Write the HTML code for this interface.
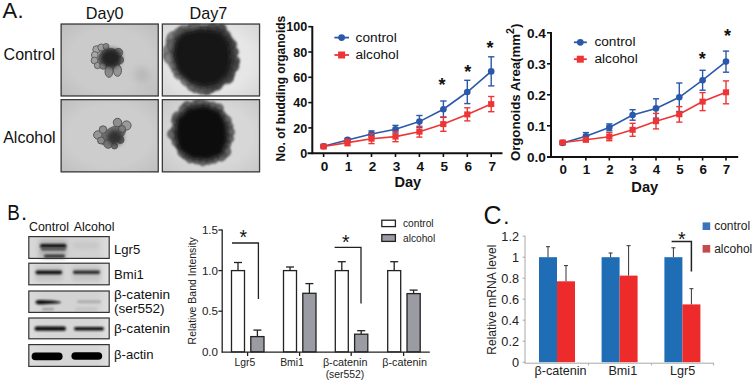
<!DOCTYPE html><html><head><meta charset="utf-8"><style>html,body{margin:0;padding:0;background:#fff;width:755px;height:383px;overflow:hidden}svg{display:block}text{font-family:"Liberation Sans",sans-serif}</style></head><body>
<svg width="755" height="383" viewBox="0 0 755 383">
<defs>
<filter id="b1" x="-50%" y="-50%" width="200%" height="200%"><feGaussianBlur stdDeviation="1"/></filter>
<filter id="b2" x="-50%" y="-50%" width="200%" height="200%"><feGaussianBlur stdDeviation="2"/></filter>
<filter id="b3" x="-50%" y="-50%" width="200%" height="200%"><feGaussianBlur stdDeviation="3.5"/></filter>
<filter id="b05" x="-50%" y="-50%" width="200%" height="200%"><feGaussianBlur stdDeviation="0.6"/></filter>
<filter id="b09" x="-50%" y="-100%" width="200%" height="300%"><feGaussianBlur stdDeviation="0.9"/></filter>
<clipPath id="cp1"><rect x="60.5" y="23.4" width="98.4" height="73.2"/></clipPath>
<clipPath id="cp2"><rect x="161.7" y="23.4" width="98.5" height="73.2"/></clipPath>
<clipPath id="cp3"><rect x="60.5" y="99" width="98.4" height="73.5"/></clipPath>
<clipPath id="cp4"><rect x="161.7" y="99" width="98.5" height="73.5"/></clipPath>
<linearGradient id="blg" x1="0" y1="0" x2="1" y2="0"><stop offset="0" stop-color="#fff" stop-opacity="0.15"/><stop offset="0.2" stop-color="#fff" stop-opacity="0"/><stop offset="0.85" stop-color="#fff" stop-opacity="0"/><stop offset="1" stop-color="#fff" stop-opacity="0.25"/></linearGradient>
<radialGradient id="vig" cx="0.5" cy="0.5" r="0.75"><stop offset="0.55" stop-color="#000" stop-opacity="0"/><stop offset="1" stop-color="#000" stop-opacity="0.12"/></radialGradient>
</defs>
<rect width="755" height="383" fill="#fff"/>
<text x="2.4" y="18" font-size="22" fill="#111">A</text><text x="17.6" y="18" font-size="22" fill="#111">.</text>
<text x="104.6" y="19.4" font-size="16.2" text-anchor="middle" fill="#111">Day0</text>
<text x="208.4" y="19.4" font-size="16.2" text-anchor="middle" fill="#111">Day7</text>
<text x="3.6" y="60.4" font-size="16" fill="#111">Control</text>
<text x="3.2" y="143.4" font-size="16" fill="#111">Alcohol</text>
<g clip-path="url(#cp1)">
<rect x="60.5" y="23.4" width="98.4" height="73.19999999999999" fill="#cbcbcb"/>
<rect x="60.5" y="23.4" width="98.4" height="73.19999999999999" fill="url(#vig)" opacity="0.70"/>
<g filter="url(#b05)"><ellipse cx="110" cy="59" rx="12" ry="11" fill="#6a6a6a"/><circle cx="96.6" cy="49.5" r="3.8" fill="#a4a4a4" stroke="#5a5a5a" stroke-width="0.9"/><circle cx="94.8" cy="55" r="3.4" fill="#a8a8a8" stroke="#5a5a5a" stroke-width="0.9"/><circle cx="94.5" cy="60.5" r="3.4" fill="#a0a0a0" stroke="#5a5a5a" stroke-width="0.9"/><circle cx="97.5" cy="65.5" r="3.2" fill="#9a9a9a" stroke="#5a5a5a" stroke-width="0.9"/><circle cx="101.5" cy="47.5" r="3.6" fill="#a0a0a0" stroke="#5a5a5a" stroke-width="0.9"/><circle cx="106" cy="46.5" r="3" fill="#8a8a8a" stroke="#5a5a5a" stroke-width="0.9"/><circle cx="118.5" cy="52.5" r="4.2" fill="#7a7a7a" stroke="#5a5a5a" stroke-width="0.9"/><circle cx="120" cy="60" r="3.6" fill="#7a7a7a" stroke="#5a5a5a" stroke-width="0.9"/><circle cx="103" cy="66" r="3.2" fill="#8a8a8a" stroke="#5a5a5a" stroke-width="0.9"/><ellipse cx="109" cy="71.5" rx="4" ry="5.8" fill="#8a8a8a" stroke="#505050" stroke-width="0.9"/><ellipse cx="117.5" cy="70.5" rx="4" ry="5.8" fill="#959595" stroke="#505050" stroke-width="0.9"/></g><ellipse cx="111" cy="58" rx="10.5" ry="9.5" fill="#222" filter="url(#b2)"/><ellipse cx="142" cy="75" rx="8" ry="8" fill="#a8a8a8" opacity="0.5" filter="url(#b3)"/>
</g>
<rect x="61.15" y="24.05" width="97.10" height="71.90" fill="none" stroke="#3c3c3c" stroke-width="1.3"/>
<g clip-path="url(#cp2)">
<rect x="161.7" y="23.4" width="98.5" height="73.19999999999999" fill="#e6e6e6"/>
<rect x="161.7" y="23.4" width="98.5" height="73.19999999999999" fill="url(#vig)" opacity="0.70"/>
<g filter="url(#b1)"><circle cx="183.4" cy="31.7" r="6.1" fill="rgb(130,130,130)" fill-opacity="0.95" stroke="#333" stroke-width="1.0"/><circle cx="191.1" cy="30.5" r="6.3" fill="rgb(117,117,117)" fill-opacity="0.95" stroke="#333" stroke-width="1.0"/><circle cx="195.2" cy="28.5" r="6.4" fill="rgb(109,109,109)" fill-opacity="0.95" stroke="#333" stroke-width="1.0"/><circle cx="204.6" cy="29.6" r="4.7" fill="rgb(90,90,90)" fill-opacity="0.95" stroke="#333" stroke-width="1.0"/><circle cx="212.5" cy="28.4" r="5.6" fill="rgb(74,74,74)" fill-opacity="0.95" stroke="#333" stroke-width="1.0"/><circle cx="221.2" cy="28.5" r="4.9" fill="rgb(70,70,70)" fill-opacity="0.95" stroke="#333" stroke-width="1.0"/><circle cx="224.3" cy="36.0" r="6.0" fill="rgb(70,70,70)" fill-opacity="0.95" stroke="#333" stroke-width="1.0"/><circle cx="228.0" cy="40.5" r="4.8" fill="rgb(70,70,70)" fill-opacity="0.95" stroke="#333" stroke-width="1.0"/><circle cx="231.8" cy="44.5" r="4.5" fill="rgb(70,70,70)" fill-opacity="0.95" stroke="#333" stroke-width="1.0"/><circle cx="233.3" cy="51.9" r="4.9" fill="rgb(70,70,70)" fill-opacity="0.95" stroke="#333" stroke-width="1.0"/><circle cx="234.4" cy="61.1" r="5.1" fill="rgb(70,70,70)" fill-opacity="0.95" stroke="#333" stroke-width="1.0"/><circle cx="232.8" cy="66.1" r="5.9" fill="rgb(70,70,70)" fill-opacity="0.95" stroke="#333" stroke-width="1.0"/><circle cx="228.9" cy="73.3" r="5.9" fill="rgb(70,70,70)" fill-opacity="0.95" stroke="#333" stroke-width="1.0"/><circle cx="228.2" cy="78.2" r="5.1" fill="rgb(70,70,70)" fill-opacity="0.95" stroke="#333" stroke-width="1.0"/><circle cx="222.0" cy="80.0" r="4.8" fill="rgb(70,70,70)" fill-opacity="0.95" stroke="#333" stroke-width="1.0"/><circle cx="216.7" cy="84.4" r="5.7" fill="rgb(70,70,70)" fill-opacity="0.95" stroke="#333" stroke-width="1.0"/><circle cx="211.3" cy="87.1" r="5.2" fill="rgb(77,77,77)" fill-opacity="0.95" stroke="#333" stroke-width="1.0"/><circle cx="207.0" cy="89.2" r="5.5" fill="rgb(85,85,85)" fill-opacity="0.95" stroke="#333" stroke-width="1.0"/><circle cx="201.6" cy="88.1" r="5.9" fill="rgb(96,96,96)" fill-opacity="0.95" stroke="#333" stroke-width="1.0"/><circle cx="195.3" cy="88.0" r="4.5" fill="rgb(109,109,109)" fill-opacity="0.95" stroke="#333" stroke-width="1.0"/><circle cx="191.7" cy="86.0" r="4.5" fill="rgb(116,116,116)" fill-opacity="0.95" stroke="#333" stroke-width="1.0"/><circle cx="186.7" cy="79.8" r="5.7" fill="rgb(126,126,126)" fill-opacity="0.95" stroke="#333" stroke-width="1.0"/><circle cx="179.1" cy="74.0" r="4.9" fill="rgb(130,130,130)" fill-opacity="0.95" stroke="#333" stroke-width="1.0"/><circle cx="177.8" cy="68.7" r="6.0" fill="rgb(130,130,130)" fill-opacity="0.95" stroke="#333" stroke-width="1.0"/><circle cx="174.5" cy="64.1" r="5.2" fill="rgb(130,130,130)" fill-opacity="0.95" stroke="#333" stroke-width="1.0"/><circle cx="169.6" cy="56.1" r="6.1" fill="rgb(130,130,130)" fill-opacity="0.95" stroke="#333" stroke-width="1.0"/><circle cx="169.6" cy="50.3" r="6.1" fill="rgb(130,130,130)" fill-opacity="0.95" stroke="#333" stroke-width="1.0"/><circle cx="172.7" cy="41.8" r="6.4" fill="rgb(130,130,130)" fill-opacity="0.95" stroke="#333" stroke-width="1.0"/><circle cx="173.0" cy="37.7" r="5.7" fill="rgb(130,130,130)" fill-opacity="0.95" stroke="#333" stroke-width="1.0"/><circle cx="179.9" cy="34.1" r="6.3" fill="rgb(130,130,130)" fill-opacity="0.95" stroke="#333" stroke-width="1.0"/><circle cx="175" cy="46" r="7" fill="#7c7c7c" stroke="#404040" stroke-width="1.2"/><circle cx="170" cy="58" r="5.5" fill="#8a8a8a" stroke="#505050" stroke-width="1.1"/><circle cx="182" cy="35" r="6" fill="#6a6a6a" stroke="#404040" stroke-width="1.1"/></g><polygon points="183,31 200,28 221,30 231,42 233,60 229,75 218,85 205,89 191,85 178,73 170,56 172,40" fill="#303030" opacity="0.6" filter="url(#b3)"/><polygon points="182,33 200,29 220,31 230,44 232,60 228,74 217,84 204,87 190,83 178,72 173,56 175,42" fill="#141414" filter="url(#b2)"/>
</g>
<rect x="162.35" y="24.05" width="97.20" height="71.90" fill="none" stroke="#3c3c3c" stroke-width="1.3"/>
<g clip-path="url(#cp3)">
<rect x="60.5" y="99" width="98.4" height="73.5" fill="#cdcdcd"/>
<rect x="60.5" y="99" width="98.4" height="73.5" fill="url(#vig)" opacity="0.70"/>
<g filter="url(#b05)"><ellipse cx="113" cy="135" rx="15" ry="8" transform="rotate(-32 113 135)" fill="#707070"/><circle cx="117.5" cy="122.5" r="4.2" fill="#8e8e8e" stroke="#505050" stroke-width="0.9"/><circle cx="126.5" cy="125.5" r="4.6" fill="#9a9a9a" stroke="#505050" stroke-width="0.9"/><circle cx="122" cy="129" r="3.5" fill="#808080" stroke="#505050" stroke-width="0.9"/><circle cx="97.8" cy="135" r="4.2" fill="#959595" stroke="#505050" stroke-width="0.9"/><circle cx="103" cy="129.6" r="3.8" fill="#8e8e8e" stroke="#505050" stroke-width="0.9"/><circle cx="108.2" cy="144" r="4.3" fill="#7a7a7a" stroke="#505050" stroke-width="0.9"/><circle cx="101" cy="140.5" r="3.5" fill="#8a8a8a" stroke="#505050" stroke-width="0.9"/><circle cx="120.6" cy="140" r="3.4" fill="#6a6a6a" stroke="#505050" stroke-width="0.9"/><circle cx="114.5" cy="146" r="3" fill="#707070" stroke="#505050" stroke-width="0.9"/></g><ellipse cx="115" cy="137.5" rx="8" ry="7.5" fill="#333" filter="url(#b2)"/>
</g>
<rect x="61.15" y="99.65" width="97.10" height="72.20" fill="none" stroke="#3c3c3c" stroke-width="1.3"/>
<g clip-path="url(#cp4)">
<rect x="161.7" y="99" width="98.5" height="73.5" fill="#d7d7d7"/>
<rect x="161.7" y="99" width="98.5" height="73.5" fill="url(#vig)" opacity="0.70"/>
<g filter="url(#b1)"><circle cx="187.3" cy="106.6" r="5.0" fill="#5e5e5e" fill-opacity="0.9" stroke="#2e2e2e" stroke-width="1.0"/><circle cx="195.7" cy="104.3" r="4.2" fill="#5e5e5e" fill-opacity="0.9" stroke="#2e2e2e" stroke-width="1.0"/><circle cx="200.3" cy="103.6" r="5.0" fill="#5e5e5e" fill-opacity="0.9" stroke="#2e2e2e" stroke-width="1.0"/><circle cx="206.4" cy="105.2" r="4.2" fill="#5e5e5e" fill-opacity="0.9" stroke="#2e2e2e" stroke-width="1.0"/><circle cx="212.4" cy="107.2" r="5.2" fill="#5e5e5e" fill-opacity="0.9" stroke="#2e2e2e" stroke-width="1.0"/><circle cx="218.8" cy="108.3" r="4.3" fill="#5e5e5e" fill-opacity="0.9" stroke="#2e2e2e" stroke-width="1.0"/><circle cx="220.8" cy="115.8" r="5.2" fill="#5e5e5e" fill-opacity="0.9" stroke="#2e2e2e" stroke-width="1.0"/><circle cx="225.9" cy="120.7" r="5.1" fill="#5e5e5e" fill-opacity="0.9" stroke="#2e2e2e" stroke-width="1.0"/><circle cx="228.6" cy="126.3" r="4.2" fill="#5e5e5e" fill-opacity="0.9" stroke="#2e2e2e" stroke-width="1.0"/><circle cx="229.1" cy="132.1" r="5.1" fill="#5e5e5e" fill-opacity="0.9" stroke="#2e2e2e" stroke-width="1.0"/><circle cx="229.0" cy="138.6" r="4.4" fill="#5e5e5e" fill-opacity="0.9" stroke="#2e2e2e" stroke-width="1.0"/><circle cx="226.5" cy="144.3" r="4.0" fill="#5e5e5e" fill-opacity="0.9" stroke="#2e2e2e" stroke-width="1.0"/><circle cx="225.0" cy="151.6" r="5.5" fill="#5e5e5e" fill-opacity="0.9" stroke="#2e2e2e" stroke-width="1.0"/><circle cx="221.1" cy="155.8" r="5.1" fill="#5e5e5e" fill-opacity="0.9" stroke="#2e2e2e" stroke-width="1.0"/><circle cx="213.9" cy="158.5" r="4.6" fill="#5e5e5e" fill-opacity="0.9" stroke="#2e2e2e" stroke-width="1.0"/><circle cx="208.5" cy="159.5" r="4.7" fill="#5e5e5e" fill-opacity="0.9" stroke="#2e2e2e" stroke-width="1.0"/><circle cx="202.7" cy="160.6" r="4.8" fill="#5e5e5e" fill-opacity="0.9" stroke="#2e2e2e" stroke-width="1.0"/><circle cx="196.8" cy="159.2" r="4.6" fill="#5e5e5e" fill-opacity="0.9" stroke="#2e2e2e" stroke-width="1.0"/><circle cx="190.3" cy="158.6" r="4.1" fill="#5e5e5e" fill-opacity="0.9" stroke="#2e2e2e" stroke-width="1.0"/><circle cx="186.0" cy="154.5" r="4.9" fill="#5e5e5e" fill-opacity="0.9" stroke="#2e2e2e" stroke-width="1.0"/><circle cx="183.1" cy="152.0" r="5.0" fill="#5e5e5e" fill-opacity="0.9" stroke="#2e2e2e" stroke-width="1.0"/><circle cx="179.8" cy="145.6" r="4.0" fill="#5e5e5e" fill-opacity="0.9" stroke="#2e2e2e" stroke-width="1.0"/><circle cx="177.1" cy="141.7" r="4.9" fill="#5e5e5e" fill-opacity="0.9" stroke="#2e2e2e" stroke-width="1.0"/><circle cx="173.1" cy="134.1" r="5.3" fill="#5e5e5e" fill-opacity="0.9" stroke="#2e2e2e" stroke-width="1.0"/><circle cx="176.0" cy="128.6" r="4.1" fill="#5e5e5e" fill-opacity="0.9" stroke="#2e2e2e" stroke-width="1.0"/><circle cx="176.7" cy="120.7" r="5.0" fill="#5e5e5e" fill-opacity="0.9" stroke="#2e2e2e" stroke-width="1.0"/><circle cx="177.5" cy="116.8" r="4.8" fill="#5e5e5e" fill-opacity="0.9" stroke="#2e2e2e" stroke-width="1.0"/><circle cx="184.0" cy="109.8" r="4.8" fill="#5e5e5e" fill-opacity="0.9" stroke="#2e2e2e" stroke-width="1.0"/></g><polygon points="189,107 205,105 220,111 227,125 228,140 222,155 208,160 192,159 179,150 175,135 177,118" fill="#0a0a0a" filter="url(#b2)"/>
</g>
<rect x="162.35" y="99.65" width="97.20" height="72.20" fill="none" stroke="#3c3c3c" stroke-width="1.3"/>
<g>
<line x1="312.3" y1="26" x2="312.3" y2="154.2" stroke="#111" stroke-width="2"/>
<line x1="307.5" y1="153.3" x2="502.5" y2="153.3" stroke="#111" stroke-width="2"/>
<line x1="308.3" y1="127.9" x2="312" y2="127.9" stroke="#111" stroke-width="1.6"/>
<line x1="308.3" y1="102.6" x2="312" y2="102.6" stroke="#111" stroke-width="1.6"/>
<line x1="308.3" y1="77.3" x2="312" y2="77.3" stroke="#111" stroke-width="1.6"/>
<line x1="308.3" y1="52.0" x2="312" y2="52.0" stroke="#111" stroke-width="1.6"/>
<line x1="308.3" y1="26.7" x2="312" y2="26.7" stroke="#111" stroke-width="1.6"/>
<text x="307.3" y="157.8" font-size="12.6" font-weight="bold" text-anchor="end" fill="#111">0</text>
<text x="307.3" y="132.5" font-size="12.6" font-weight="bold" text-anchor="end" fill="#111">20</text>
<text x="307.3" y="107.2" font-size="12.6" font-weight="bold" text-anchor="end" fill="#111">40</text>
<text x="307.3" y="81.9" font-size="12.6" font-weight="bold" text-anchor="end" fill="#111">60</text>
<text x="307.3" y="56.6" font-size="12.6" font-weight="bold" text-anchor="end" fill="#111">80</text>
<text x="307.3" y="31.3" font-size="12.6" font-weight="bold" text-anchor="end" fill="#111">100</text>
<line x1="323.6" y1="153" x2="323.6" y2="157" stroke="#111" stroke-width="1.6"/>
<text x="324.6" y="170.5" font-size="13.6" font-weight="bold" text-anchor="middle" fill="#111">0</text>
<line x1="347.6" y1="153" x2="347.6" y2="157" stroke="#111" stroke-width="1.6"/>
<text x="348.6" y="170.5" font-size="13.6" font-weight="bold" text-anchor="middle" fill="#111">1</text>
<line x1="371.5" y1="153" x2="371.5" y2="157" stroke="#111" stroke-width="1.6"/>
<text x="372.5" y="170.5" font-size="13.6" font-weight="bold" text-anchor="middle" fill="#111">2</text>
<line x1="395.5" y1="153" x2="395.5" y2="157" stroke="#111" stroke-width="1.6"/>
<text x="396.5" y="170.5" font-size="13.6" font-weight="bold" text-anchor="middle" fill="#111">3</text>
<line x1="419.4" y1="153" x2="419.4" y2="157" stroke="#111" stroke-width="1.6"/>
<text x="420.4" y="170.5" font-size="13.6" font-weight="bold" text-anchor="middle" fill="#111">4</text>
<line x1="443.4" y1="153" x2="443.4" y2="157" stroke="#111" stroke-width="1.6"/>
<text x="444.4" y="170.5" font-size="13.6" font-weight="bold" text-anchor="middle" fill="#111">5</text>
<line x1="467.3" y1="153" x2="467.3" y2="157" stroke="#111" stroke-width="1.6"/>
<text x="468.3" y="170.5" font-size="13.6" font-weight="bold" text-anchor="middle" fill="#111">6</text>
<line x1="491.2" y1="153" x2="491.2" y2="157" stroke="#111" stroke-width="1.6"/>
<text x="492.2" y="170.5" font-size="13.6" font-weight="bold" text-anchor="middle" fill="#111">7</text>
<text x="407.8" y="187.2" font-size="14.6" font-weight="bold" text-anchor="middle" fill="#111">Day</text>
<text transform="translate(285.2 88.6) rotate(-90)" font-size="12" font-weight="bold" text-anchor="middle" fill="#111" textLength="145.6" lengthAdjust="spacingAndGlyphs">No. of budding organoids</text>
<line x1="334.4" y1="37.6" x2="349" y2="37.6" stroke="#2a58aa" stroke-width="1.8"/><circle cx="341.6" cy="37.6" r="3.4" fill="#2a58aa"/>
<text x="355.6" y="41.6" font-size="13.7" fill="#111">control</text>
<line x1="334.4" y1="55" x2="349" y2="55" stroke="#ee3535" stroke-width="1.8"/><rect x="338.1" y="51.5" width="7" height="7" fill="#ee3535"/>
<text x="355.4" y="59" font-size="13.7" fill="#111">alcohol</text>
<polyline points="323.6,146.2 347.6,139.9 371.5,134.0 395.5,129.2 419.4,121.6 443.4,109.2 467.3,92.0 491.2,71.4" fill="none" stroke="#2a58aa" stroke-width="1.6"/>
<line x1="323.6" y1="145.0" x2="323.6" y2="147.5" stroke="#2a58aa" stroke-width="1.4"/>
<line x1="320.5" y1="145.0" x2="326.7" y2="145.0" stroke="#2a58aa" stroke-width="1.4"/>
<line x1="320.5" y1="147.5" x2="326.7" y2="147.5" stroke="#2a58aa" stroke-width="1.4"/>
<circle cx="323.6" cy="146.2" r="3.3" fill="#2a58aa"/>
<line x1="347.6" y1="138.4" x2="347.6" y2="141.4" stroke="#2a58aa" stroke-width="1.4"/>
<line x1="344.4" y1="138.4" x2="350.7" y2="138.4" stroke="#2a58aa" stroke-width="1.4"/>
<line x1="344.4" y1="141.4" x2="350.7" y2="141.4" stroke="#2a58aa" stroke-width="1.4"/>
<circle cx="347.6" cy="139.9" r="3.3" fill="#2a58aa"/>
<line x1="371.5" y1="130.9" x2="371.5" y2="137.0" stroke="#2a58aa" stroke-width="1.4"/>
<line x1="368.4" y1="130.9" x2="374.6" y2="130.9" stroke="#2a58aa" stroke-width="1.4"/>
<line x1="368.4" y1="137.0" x2="374.6" y2="137.0" stroke="#2a58aa" stroke-width="1.4"/>
<circle cx="371.5" cy="134.0" r="3.3" fill="#2a58aa"/>
<line x1="395.5" y1="125.4" x2="395.5" y2="133.0" stroke="#2a58aa" stroke-width="1.4"/>
<line x1="392.4" y1="125.4" x2="398.6" y2="125.4" stroke="#2a58aa" stroke-width="1.4"/>
<line x1="392.4" y1="133.0" x2="398.6" y2="133.0" stroke="#2a58aa" stroke-width="1.4"/>
<circle cx="395.5" cy="129.2" r="3.3" fill="#2a58aa"/>
<line x1="419.4" y1="115.5" x2="419.4" y2="127.6" stroke="#2a58aa" stroke-width="1.4"/>
<line x1="416.3" y1="115.5" x2="422.5" y2="115.5" stroke="#2a58aa" stroke-width="1.4"/>
<line x1="416.3" y1="127.6" x2="422.5" y2="127.6" stroke="#2a58aa" stroke-width="1.4"/>
<circle cx="419.4" cy="121.6" r="3.3" fill="#2a58aa"/>
<line x1="443.4" y1="101.0" x2="443.4" y2="117.4" stroke="#2a58aa" stroke-width="1.4"/>
<line x1="440.2" y1="101.0" x2="446.5" y2="101.0" stroke="#2a58aa" stroke-width="1.4"/>
<line x1="440.2" y1="117.4" x2="446.5" y2="117.4" stroke="#2a58aa" stroke-width="1.4"/>
<circle cx="443.4" cy="109.2" r="3.3" fill="#2a58aa"/>
<line x1="467.3" y1="80.3" x2="467.3" y2="103.6" stroke="#2a58aa" stroke-width="1.4"/>
<line x1="464.2" y1="80.3" x2="470.4" y2="80.3" stroke="#2a58aa" stroke-width="1.4"/>
<line x1="464.2" y1="103.6" x2="470.4" y2="103.6" stroke="#2a58aa" stroke-width="1.4"/>
<circle cx="467.3" cy="92.0" r="3.3" fill="#2a58aa"/>
<line x1="491.2" y1="56.8" x2="491.2" y2="85.9" stroke="#2a58aa" stroke-width="1.4"/>
<line x1="488.1" y1="56.8" x2="494.4" y2="56.8" stroke="#2a58aa" stroke-width="1.4"/>
<line x1="488.1" y1="85.9" x2="494.4" y2="85.9" stroke="#2a58aa" stroke-width="1.4"/>
<circle cx="491.2" cy="71.4" r="3.3" fill="#2a58aa"/>
<polyline points="323.6,146.5 347.6,142.6 371.5,138.7 395.5,136.6 419.4,131.7 443.4,124.1 467.3,114.4 491.2,104.1" fill="none" stroke="#ee3535" stroke-width="1.6"/>
<line x1="323.6" y1="145.2" x2="323.6" y2="147.8" stroke="#ee3535" stroke-width="1.4"/>
<line x1="320.5" y1="145.2" x2="326.7" y2="145.2" stroke="#ee3535" stroke-width="1.4"/>
<line x1="320.5" y1="147.8" x2="326.7" y2="147.8" stroke="#ee3535" stroke-width="1.4"/>
<rect x="320.5" y="143.5" width="6.2" height="6" fill="#ee3535"/>
<line x1="347.6" y1="139.4" x2="347.6" y2="145.7" stroke="#ee3535" stroke-width="1.4"/>
<line x1="344.4" y1="139.4" x2="350.7" y2="139.4" stroke="#ee3535" stroke-width="1.4"/>
<line x1="344.4" y1="145.7" x2="350.7" y2="145.7" stroke="#ee3535" stroke-width="1.4"/>
<rect x="344.4" y="139.6" width="6.2" height="6" fill="#ee3535"/>
<line x1="371.5" y1="133.7" x2="371.5" y2="143.6" stroke="#ee3535" stroke-width="1.4"/>
<line x1="368.4" y1="133.7" x2="374.6" y2="133.7" stroke="#ee3535" stroke-width="1.4"/>
<line x1="368.4" y1="143.6" x2="374.6" y2="143.6" stroke="#ee3535" stroke-width="1.4"/>
<rect x="368.4" y="135.7" width="6.2" height="6" fill="#ee3535"/>
<line x1="395.5" y1="131.6" x2="395.5" y2="141.7" stroke="#ee3535" stroke-width="1.4"/>
<line x1="392.4" y1="131.6" x2="398.6" y2="131.6" stroke="#ee3535" stroke-width="1.4"/>
<line x1="392.4" y1="141.7" x2="398.6" y2="141.7" stroke="#ee3535" stroke-width="1.4"/>
<rect x="392.4" y="133.6" width="6.2" height="6" fill="#ee3535"/>
<line x1="419.4" y1="126.3" x2="419.4" y2="137.1" stroke="#ee3535" stroke-width="1.4"/>
<line x1="416.3" y1="126.3" x2="422.5" y2="126.3" stroke="#ee3535" stroke-width="1.4"/>
<line x1="416.3" y1="137.1" x2="422.5" y2="137.1" stroke="#ee3535" stroke-width="1.4"/>
<rect x="416.3" y="128.7" width="6.2" height="6" fill="#ee3535"/>
<line x1="443.4" y1="116.9" x2="443.4" y2="131.3" stroke="#ee3535" stroke-width="1.4"/>
<line x1="440.2" y1="116.9" x2="446.5" y2="116.9" stroke="#ee3535" stroke-width="1.4"/>
<line x1="440.2" y1="131.3" x2="446.5" y2="131.3" stroke="#ee3535" stroke-width="1.4"/>
<rect x="440.2" y="121.1" width="6.2" height="6" fill="#ee3535"/>
<line x1="467.3" y1="107.8" x2="467.3" y2="120.9" stroke="#ee3535" stroke-width="1.4"/>
<line x1="464.2" y1="107.8" x2="470.4" y2="107.8" stroke="#ee3535" stroke-width="1.4"/>
<line x1="464.2" y1="120.9" x2="470.4" y2="120.9" stroke="#ee3535" stroke-width="1.4"/>
<rect x="464.2" y="111.4" width="6.2" height="6" fill="#ee3535"/>
<line x1="491.2" y1="96.5" x2="491.2" y2="111.7" stroke="#ee3535" stroke-width="1.4"/>
<line x1="488.1" y1="96.5" x2="494.4" y2="96.5" stroke="#ee3535" stroke-width="1.4"/>
<line x1="488.1" y1="111.7" x2="494.4" y2="111.7" stroke="#ee3535" stroke-width="1.4"/>
<rect x="488.1" y="101.1" width="6.2" height="6" fill="#ee3535"/>
<text x="442" y="90.55" font-size="18" font-weight="bold" text-anchor="middle" fill="#111">*</text>
<text x="467.7" y="77.55" font-size="18" font-weight="bold" text-anchor="middle" fill="#111">*</text>
<text x="489.9" y="54.35" font-size="18" font-weight="bold" text-anchor="middle" fill="#111">*</text>
</g>
<g>
<line x1="551" y1="32" x2="551" y2="157.8" stroke="#111" stroke-width="2"/>
<line x1="547" y1="157" x2="738.2" y2="157" stroke="#111" stroke-width="2"/>
<line x1="547" y1="125.8" x2="551" y2="125.8" stroke="#111" stroke-width="1.6"/>
<line x1="547" y1="94.8" x2="551" y2="94.8" stroke="#111" stroke-width="1.6"/>
<line x1="547" y1="63.8" x2="551" y2="63.8" stroke="#111" stroke-width="1.6"/>
<line x1="547" y1="32.8" x2="551" y2="32.8" stroke="#111" stroke-width="1.6"/>
<text x="545.8" y="161.7" font-size="13.6" font-weight="bold" text-anchor="end" fill="#111">0.0</text>
<text x="545.8" y="130.7" font-size="13.6" font-weight="bold" text-anchor="end" fill="#111">0.1</text>
<text x="545.8" y="99.7" font-size="13.6" font-weight="bold" text-anchor="end" fill="#111">0.2</text>
<text x="545.8" y="68.7" font-size="13.6" font-weight="bold" text-anchor="end" fill="#111">0.3</text>
<text x="545.8" y="37.7" font-size="13.6" font-weight="bold" text-anchor="end" fill="#111">0.4</text>
<line x1="562.6" y1="156.5" x2="562.6" y2="160.5" stroke="#111" stroke-width="1.6"/>
<text x="563.2" y="173.6" font-size="13.4" font-weight="bold" text-anchor="middle" fill="#111">0</text>
<line x1="585.9" y1="156.5" x2="585.9" y2="160.5" stroke="#111" stroke-width="1.6"/>
<text x="586.5" y="173.6" font-size="13.4" font-weight="bold" text-anchor="middle" fill="#111">1</text>
<line x1="609.3" y1="156.5" x2="609.3" y2="160.5" stroke="#111" stroke-width="1.6"/>
<text x="609.9" y="173.6" font-size="13.4" font-weight="bold" text-anchor="middle" fill="#111">2</text>
<line x1="632.6" y1="156.5" x2="632.6" y2="160.5" stroke="#111" stroke-width="1.6"/>
<text x="633.2" y="173.6" font-size="13.4" font-weight="bold" text-anchor="middle" fill="#111">3</text>
<line x1="656.0" y1="156.5" x2="656.0" y2="160.5" stroke="#111" stroke-width="1.6"/>
<text x="656.6" y="173.6" font-size="13.4" font-weight="bold" text-anchor="middle" fill="#111">4</text>
<line x1="679.3" y1="156.5" x2="679.3" y2="160.5" stroke="#111" stroke-width="1.6"/>
<text x="679.9" y="173.6" font-size="13.4" font-weight="bold" text-anchor="middle" fill="#111">5</text>
<line x1="702.6" y1="156.5" x2="702.6" y2="160.5" stroke="#111" stroke-width="1.6"/>
<text x="703.2" y="173.6" font-size="13.4" font-weight="bold" text-anchor="middle" fill="#111">6</text>
<line x1="726.0" y1="156.5" x2="726.0" y2="160.5" stroke="#111" stroke-width="1.6"/>
<text x="726.6" y="173.6" font-size="13.4" font-weight="bold" text-anchor="middle" fill="#111">7</text>
<text x="644.8" y="191.8" font-size="14.7" font-weight="bold" text-anchor="middle" fill="#111">Day</text>
<text transform="translate(519.6 92.4) rotate(-90)" font-size="12.4" font-weight="bold" text-anchor="middle" fill="#111" textLength="137.4" lengthAdjust="spacingAndGlyphs">Orgonoids Area(mm<tspan font-size="10" dy="-6">2</tspan><tspan dy="6">)</tspan></text>
<line x1="573.9" y1="42.3" x2="586.8" y2="42.3" stroke="#2a58aa" stroke-width="1.8"/><circle cx="580.3" cy="42.3" r="3.4" fill="#2a58aa"/>
<text x="594.4" y="46.4" font-size="13.7" fill="#111">control</text>
<line x1="573.9" y1="59.2" x2="586.8" y2="59.2" stroke="#ee3535" stroke-width="1.8"/><rect x="576.8" y="55.7" width="7" height="7" fill="#ee3535"/>
<text x="594.4" y="63.3" font-size="13.7" fill="#111">alcohol</text>
<polyline points="562.6,142.9 585.9,136.3 609.3,127.4 632.6,115.0 656.0,108.4 679.3,97.3 702.6,80.2 726.0,61.6" fill="none" stroke="#2a58aa" stroke-width="1.6"/>
<line x1="562.6" y1="141.6" x2="562.6" y2="144.1" stroke="#2a58aa" stroke-width="1.4"/>
<line x1="559.5" y1="141.6" x2="565.7" y2="141.6" stroke="#2a58aa" stroke-width="1.4"/>
<line x1="559.5" y1="144.1" x2="565.7" y2="144.1" stroke="#2a58aa" stroke-width="1.4"/>
<circle cx="562.6" cy="142.9" r="3.3" fill="#2a58aa"/>
<line x1="585.9" y1="132.6" x2="585.9" y2="140.1" stroke="#2a58aa" stroke-width="1.4"/>
<line x1="582.8" y1="132.6" x2="589.0" y2="132.6" stroke="#2a58aa" stroke-width="1.4"/>
<line x1="582.8" y1="140.1" x2="589.0" y2="140.1" stroke="#2a58aa" stroke-width="1.4"/>
<circle cx="585.9" cy="136.3" r="3.3" fill="#2a58aa"/>
<line x1="609.3" y1="123.9" x2="609.3" y2="130.8" stroke="#2a58aa" stroke-width="1.4"/>
<line x1="606.2" y1="123.9" x2="612.4" y2="123.9" stroke="#2a58aa" stroke-width="1.4"/>
<line x1="606.2" y1="130.8" x2="612.4" y2="130.8" stroke="#2a58aa" stroke-width="1.4"/>
<circle cx="609.3" cy="127.4" r="3.3" fill="#2a58aa"/>
<line x1="632.6" y1="109.7" x2="632.6" y2="120.2" stroke="#2a58aa" stroke-width="1.4"/>
<line x1="629.5" y1="109.7" x2="635.7" y2="109.7" stroke="#2a58aa" stroke-width="1.4"/>
<line x1="629.5" y1="120.2" x2="635.7" y2="120.2" stroke="#2a58aa" stroke-width="1.4"/>
<circle cx="632.6" cy="115.0" r="3.3" fill="#2a58aa"/>
<line x1="656.0" y1="98.8" x2="656.0" y2="118.1" stroke="#2a58aa" stroke-width="1.4"/>
<line x1="652.9" y1="98.8" x2="659.1" y2="98.8" stroke="#2a58aa" stroke-width="1.4"/>
<line x1="652.9" y1="118.1" x2="659.1" y2="118.1" stroke="#2a58aa" stroke-width="1.4"/>
<circle cx="656.0" cy="108.4" r="3.3" fill="#2a58aa"/>
<line x1="679.3" y1="83.0" x2="679.3" y2="111.5" stroke="#2a58aa" stroke-width="1.4"/>
<line x1="676.2" y1="83.0" x2="682.4" y2="83.0" stroke="#2a58aa" stroke-width="1.4"/>
<line x1="676.2" y1="111.5" x2="682.4" y2="111.5" stroke="#2a58aa" stroke-width="1.4"/>
<circle cx="679.3" cy="97.3" r="3.3" fill="#2a58aa"/>
<line x1="702.6" y1="70.3" x2="702.6" y2="90.2" stroke="#2a58aa" stroke-width="1.4"/>
<line x1="699.5" y1="70.3" x2="705.7" y2="70.3" stroke="#2a58aa" stroke-width="1.4"/>
<line x1="699.5" y1="90.2" x2="705.7" y2="90.2" stroke="#2a58aa" stroke-width="1.4"/>
<circle cx="702.6" cy="80.2" r="3.3" fill="#2a58aa"/>
<line x1="726.0" y1="51.1" x2="726.0" y2="72.2" stroke="#2a58aa" stroke-width="1.4"/>
<line x1="722.9" y1="51.1" x2="729.1" y2="51.1" stroke="#2a58aa" stroke-width="1.4"/>
<line x1="722.9" y1="72.2" x2="729.1" y2="72.2" stroke="#2a58aa" stroke-width="1.4"/>
<circle cx="726.0" cy="61.6" r="3.3" fill="#2a58aa"/>
<polyline points="562.6,142.5 585.9,139.8 609.3,136.7 632.6,129.8 656.0,121.2 679.3,114.3 702.6,101.6 726.0,92.3" fill="none" stroke="#ee3535" stroke-width="1.6"/>
<line x1="562.6" y1="141.0" x2="562.6" y2="144.1" stroke="#ee3535" stroke-width="1.4"/>
<line x1="559.5" y1="141.0" x2="565.7" y2="141.0" stroke="#ee3535" stroke-width="1.4"/>
<line x1="559.5" y1="144.1" x2="565.7" y2="144.1" stroke="#ee3535" stroke-width="1.4"/>
<rect x="559.5" y="139.5" width="6.2" height="6" fill="#ee3535"/>
<line x1="585.9" y1="137.9" x2="585.9" y2="141.6" stroke="#ee3535" stroke-width="1.4"/>
<line x1="582.8" y1="137.9" x2="589.0" y2="137.9" stroke="#ee3535" stroke-width="1.4"/>
<line x1="582.8" y1="141.6" x2="589.0" y2="141.6" stroke="#ee3535" stroke-width="1.4"/>
<rect x="582.8" y="136.8" width="6.2" height="6" fill="#ee3535"/>
<line x1="609.3" y1="132.6" x2="609.3" y2="140.7" stroke="#ee3535" stroke-width="1.4"/>
<line x1="606.2" y1="132.6" x2="612.4" y2="132.6" stroke="#ee3535" stroke-width="1.4"/>
<line x1="606.2" y1="140.7" x2="612.4" y2="140.7" stroke="#ee3535" stroke-width="1.4"/>
<rect x="606.2" y="133.7" width="6.2" height="6" fill="#ee3535"/>
<line x1="632.6" y1="123.3" x2="632.6" y2="136.3" stroke="#ee3535" stroke-width="1.4"/>
<line x1="629.5" y1="123.3" x2="635.7" y2="123.3" stroke="#ee3535" stroke-width="1.4"/>
<line x1="629.5" y1="136.3" x2="635.7" y2="136.3" stroke="#ee3535" stroke-width="1.4"/>
<rect x="629.5" y="126.8" width="6.2" height="6" fill="#ee3535"/>
<line x1="656.0" y1="113.4" x2="656.0" y2="128.9" stroke="#ee3535" stroke-width="1.4"/>
<line x1="652.9" y1="113.4" x2="659.1" y2="113.4" stroke="#ee3535" stroke-width="1.4"/>
<line x1="652.9" y1="128.9" x2="659.1" y2="128.9" stroke="#ee3535" stroke-width="1.4"/>
<rect x="652.9" y="118.2" width="6.2" height="6" fill="#ee3535"/>
<line x1="679.3" y1="106.6" x2="679.3" y2="122.1" stroke="#ee3535" stroke-width="1.4"/>
<line x1="676.2" y1="106.6" x2="682.4" y2="106.6" stroke="#ee3535" stroke-width="1.4"/>
<line x1="676.2" y1="122.1" x2="682.4" y2="122.1" stroke="#ee3535" stroke-width="1.4"/>
<rect x="676.2" y="111.3" width="6.2" height="6" fill="#ee3535"/>
<line x1="702.6" y1="92.6" x2="702.6" y2="110.6" stroke="#ee3535" stroke-width="1.4"/>
<line x1="699.5" y1="92.6" x2="705.7" y2="92.6" stroke="#ee3535" stroke-width="1.4"/>
<line x1="699.5" y1="110.6" x2="705.7" y2="110.6" stroke="#ee3535" stroke-width="1.4"/>
<rect x="699.5" y="98.6" width="6.2" height="6" fill="#ee3535"/>
<line x1="726.0" y1="80.9" x2="726.0" y2="103.8" stroke="#ee3535" stroke-width="1.4"/>
<line x1="722.9" y1="80.9" x2="729.1" y2="80.9" stroke="#ee3535" stroke-width="1.4"/>
<line x1="722.9" y1="103.8" x2="729.1" y2="103.8" stroke="#ee3535" stroke-width="1.4"/>
<rect x="722.9" y="89.3" width="6.2" height="6" fill="#ee3535"/>
<text x="702.3" y="65.25" font-size="18" font-weight="bold" text-anchor="middle" fill="#111">*</text>
<text x="727.5" y="41.75" font-size="18" font-weight="bold" text-anchor="middle" fill="#111">*</text>
</g>
<text x="7.2" y="219.6" font-size="22" fill="#111" textLength="12.6" lengthAdjust="spacingAndGlyphs">B</text><text x="21" y="219.6" font-size="22" fill="#111">.</text>
<text x="29" y="230.6" font-size="12.4" fill="#111">Control</text>
<text x="73.8" y="230.6" font-size="12.4" fill="#111">Alcohol</text>
<defs><filter id="bb" x="-20%" y="-100%" width="140%" height="300%"><feGaussianBlur stdDeviation="1.1"/></filter><filter id="bb2" x="-20%" y="-100%" width="140%" height="300%"><feGaussianBlur stdDeviation="2"/></filter></defs>
<rect x="29" y="236.5" width="80" height="22" fill="#d2d2d2"/>
<rect x="29" y="236.5" width="80" height="22" fill="url(#blg)"/>
<rect x="29" y="263.1" width="80" height="21.799999999999955" fill="#d6d6d6"/>
<rect x="29" y="263.1" width="80" height="21.799999999999955" fill="url(#blg)"/>
<rect x="29" y="290.9" width="80" height="21.600000000000023" fill="#d3d3d3"/>
<rect x="29" y="290.9" width="80" height="21.600000000000023" fill="url(#blg)"/>
<rect x="29" y="317.9" width="80" height="21.0" fill="#d6d6d6"/>
<rect x="29" y="317.9" width="80" height="21.0" fill="url(#blg)"/>
<rect x="29" y="344.5" width="80" height="22" fill="#d6d6d6"/>
<rect x="29" y="344.5" width="80" height="22" fill="url(#blg)"/>
<rect x="39" y="240" width="28" height="18" rx="3" fill="#b4b4b4" filter="url(#bb2)"/>
<rect x="40" y="244" width="26.5" height="3.8" rx="1.9" fill="#0e0e0e" filter="url(#b09)"/>
<rect x="41" y="247.8" width="25" height="2.6" rx="1.3" fill="#444" filter="url(#b09)"/>
<rect x="44" y="254.6" width="21" height="3.2" rx="1.6" fill="#333" filter="url(#b09)"/>
<rect x="73" y="243" width="26" height="5" rx="2.5" fill="#c4c4c4" filter="url(#bb2)"/>
<rect x="35" y="266" width="28" height="15" rx="3" fill="#c4c4c4" filter="url(#bb2)"/>
<rect x="72" y="266" width="29" height="15" rx="3" fill="#c4c4c4" filter="url(#bb2)"/>
<rect x="35.6" y="270.4" width="26.5" height="3.8" rx="1.9" fill="#111" filter="url(#b09)"/>
<rect x="73" y="270.6" width="27" height="3.4" rx="1.7" fill="#2a2a2a" filter="url(#b09)"/>
<path d="M35.5,302.3 Q35.5,300 40,300 L52,300.4 Q61,301.2 61,302.3 Q61,303.4 52,303.8 L40,304.4 Q35.5,304.4 35.5,302.3Z" fill="#111" filter="url(#b09)"/>
<rect x="77" y="300.4" width="24" height="2.6" rx="1.3" fill="#a8a8a8" filter="url(#b09)"/>
<rect x="42" y="307.6" width="12" height="3.2" rx="1.6" fill="#a8a8a8" filter="url(#b09)"/>
<rect x="75" y="307.6" width="22" height="3.2" rx="1.6" fill="#c4c4c4" filter="url(#b09)"/>
<rect x="34.5" y="326.6" width="31.5" height="4.2" rx="2.1" fill="#0a0a0a" filter="url(#b09)"/>
<rect x="74" y="327" width="30" height="3.4" rx="1.7" fill="#111" filter="url(#b09)"/>
<rect x="31.6" y="352.6" width="31" height="7.6" rx="3.8" fill="#060606" filter="url(#b05)"/>
<rect x="71.4" y="352.2" width="30.8" height="7.6" rx="3.8" fill="#060606" filter="url(#b05)"/>
<rect x="28.8" y="236.6" width="80.4" height="21.8" fill="none" stroke="#333" stroke-width="1.2"/>
<text x="114" y="254.4" font-size="13.1" fill="#111">Lgr5</text>
<rect x="28.8" y="263.20000000000005" width="80.4" height="21.599999999999955" fill="none" stroke="#333" stroke-width="1.2"/>
<text x="114" y="278.6" font-size="13.1" fill="#111">Bmi1</text>
<rect x="28.8" y="291.0" width="80.4" height="21.400000000000023" fill="none" stroke="#333" stroke-width="1.2"/>
<text x="114" y="298.8" font-size="13.6" fill="#111">β-catenin</text>
<text x="114" y="312.8" font-size="13.6" fill="#111">(ser552)</text>
<rect x="28.8" y="318.0" width="80.4" height="20.8" fill="none" stroke="#333" stroke-width="1.2"/>
<text x="114" y="332.8" font-size="13.6" fill="#111">β-catenin</text>
<rect x="28.8" y="344.6" width="80.4" height="21.8" fill="none" stroke="#333" stroke-width="1.2"/>
<text x="114" y="358.8" font-size="13.1" fill="#111">β-actin</text>
<g stroke="#222" stroke-width="1.3">
<line x1="222.2" y1="229.6" x2="222.2" y2="352.4"/>
<line x1="221.6" y1="352.2" x2="429.8" y2="352.2"/>
<line x1="218.4" y1="311.2" x2="222.2" y2="311.2"/>
<line x1="218.4" y1="270.6" x2="222.2" y2="270.6"/>
<line x1="218.4" y1="230.0" x2="222.2" y2="230.0"/>
<line x1="247.6" y1="352" x2="247.6" y2="356"/>
<line x1="299.6" y1="352" x2="299.6" y2="356"/>
<line x1="351.2" y1="352" x2="351.2" y2="356"/>
<line x1="403.6" y1="352" x2="403.6" y2="356"/>
</g>
<text x="218" y="355.8" font-size="11.6" text-anchor="end" fill="#222">0.0</text>
<text x="218" y="315.2" font-size="11.6" text-anchor="end" fill="#222">0.5</text>
<text x="218" y="274.6" font-size="11.6" text-anchor="end" fill="#222">1.0</text>
<text x="218" y="234.0" font-size="11.6" text-anchor="end" fill="#222">1.5</text>
<text transform="translate(196.4 290.8) rotate(-90)" font-size="10.5" text-anchor="middle" fill="#222" textLength="107.3" lengthAdjust="spacingAndGlyphs">Relative Band Intensity</text>
<g stroke="#222" stroke-width="1.3">
<line x1="238.0" y1="270.6" x2="238.0" y2="262.5"/><line x1="234.0" y1="262.5" x2="242.0" y2="262.5"/>
<line x1="257.4" y1="336.6" x2="257.4" y2="330.1"/><line x1="253.4" y1="330.1" x2="261.4" y2="330.1"/>
</g>
<rect x="231.5" y="270.6" width="13" height="81.2" fill="#fff" stroke="#222" stroke-width="1.3"/>
<rect x="250.8" y="336.6" width="13.2" height="15.2" fill="#9a9ba3" stroke="#222" stroke-width="1.3"/>
<g stroke="#222" stroke-width="1.3">
<line x1="290.0" y1="270.6" x2="290.0" y2="267.0"/><line x1="286.0" y1="267.0" x2="294.0" y2="267.0"/>
<line x1="309.4" y1="293.3" x2="309.4" y2="283.6"/><line x1="305.4" y1="283.6" x2="313.4" y2="283.6"/>
</g>
<rect x="283.5" y="270.6" width="13" height="81.2" fill="#fff" stroke="#222" stroke-width="1.3"/>
<rect x="302.8" y="293.3" width="13.2" height="58.5" fill="#9a9ba3" stroke="#222" stroke-width="1.3"/>
<g stroke="#222" stroke-width="1.3">
<line x1="341.8" y1="270.6" x2="341.8" y2="261.7"/><line x1="337.8" y1="261.7" x2="345.8" y2="261.7"/>
<line x1="361.2" y1="334.2" x2="361.2" y2="330.7"/><line x1="357.2" y1="330.7" x2="365.2" y2="330.7"/>
</g>
<rect x="335.3" y="270.6" width="13" height="81.2" fill="#fff" stroke="#222" stroke-width="1.3"/>
<rect x="354.6" y="334.2" width="13.2" height="17.6" fill="#9a9ba3" stroke="#222" stroke-width="1.3"/>
<g stroke="#222" stroke-width="1.3">
<line x1="394.2" y1="270.6" x2="394.2" y2="261.7"/><line x1="390.2" y1="261.7" x2="398.2" y2="261.7"/>
<line x1="413.6" y1="293.6" x2="413.6" y2="290.1"/><line x1="409.6" y1="290.1" x2="417.6" y2="290.1"/>
</g>
<rect x="387.7" y="270.6" width="13" height="81.2" fill="#fff" stroke="#222" stroke-width="1.3"/>
<rect x="407.0" y="293.6" width="13.2" height="58.2" fill="#9a9ba3" stroke="#222" stroke-width="1.3"/>
<polyline points="232,243 258.4,243 258.4,299" fill="none" stroke="#222" stroke-width="1.3"/>
<polyline points="334.6,247.4 361,247.4 361,303.6" fill="none" stroke="#222" stroke-width="1.3"/>
<text x="243.2" y="244" font-size="19.5" text-anchor="middle" fill="#111">*</text>
<text x="345.9" y="248.6" font-size="19.5" text-anchor="middle" fill="#111">*</text>
<text x="244.9" y="365.8" font-size="10.4" text-anchor="middle" fill="#222">Lgr5</text>
<text x="292" y="365.8" font-size="10.4" text-anchor="middle" fill="#222">Bmi1</text>
<text x="345.2" y="365.8" font-size="10.8" text-anchor="middle" fill="#222">β-catenin</text>
<text x="345" y="377.7" font-size="10.4" text-anchor="middle" fill="#222">(ser552)</text>
<text x="404.6" y="365.8" font-size="10.8" text-anchor="middle" fill="#222">β-catenin</text>
<rect x="381.8" y="220.2" width="13.6" height="6.4" fill="#fff" stroke="#222" stroke-width="1.3"/>
<rect x="381.8" y="234.6" width="13.6" height="6.8" fill="#9a9ba3" stroke="#222" stroke-width="1.3"/>
<text x="403" y="227.2" font-size="10.2" fill="#222">control</text>
<text x="403" y="241.8" font-size="10.2" fill="#222">alcohol</text>
<text x="483.6" y="223.9" font-size="25" fill="#111">C</text><text x="503.3" y="223.9" font-size="22" fill="#111">.</text>
<line x1="525" y1="235.6" x2="525" y2="363.4" stroke="#a8a8a8" stroke-width="1"/>
<line x1="524.6" y1="363.2" x2="714" y2="363.2" stroke="#a8a8a8" stroke-width="1"/>
<line x1="522.6" y1="362.2" x2="525" y2="362.2" stroke="#a8a8a8" stroke-width="1"/>
<text x="519" y="366.7" font-size="12.7" text-anchor="end" fill="#222">0</text>
<line x1="522.6" y1="341.2" x2="525" y2="341.2" stroke="#a8a8a8" stroke-width="1"/>
<text x="519" y="345.7" font-size="12.7" text-anchor="end" fill="#222">0.2</text>
<line x1="522.6" y1="320.2" x2="525" y2="320.2" stroke="#a8a8a8" stroke-width="1"/>
<text x="519" y="324.7" font-size="12.7" text-anchor="end" fill="#222">0.4</text>
<line x1="522.6" y1="299.2" x2="525" y2="299.2" stroke="#a8a8a8" stroke-width="1"/>
<text x="519" y="303.7" font-size="12.7" text-anchor="end" fill="#222">0.6</text>
<line x1="522.6" y1="278.2" x2="525" y2="278.2" stroke="#a8a8a8" stroke-width="1"/>
<text x="519" y="282.7" font-size="12.7" text-anchor="end" fill="#222">0.8</text>
<line x1="522.6" y1="257.2" x2="525" y2="257.2" stroke="#a8a8a8" stroke-width="1"/>
<text x="519" y="261.7" font-size="12.7" text-anchor="end" fill="#222">1</text>
<line x1="522.6" y1="236.2" x2="525" y2="236.2" stroke="#a8a8a8" stroke-width="1"/>
<text x="519" y="240.7" font-size="12.7" text-anchor="end" fill="#222">1.2</text>
<line x1="588.5" y1="363.2" x2="588.5" y2="365.4" stroke="#a8a8a8" stroke-width="1"/>
<line x1="651.4" y1="363.2" x2="651.4" y2="365.4" stroke="#a8a8a8" stroke-width="1"/>
<line x1="713.6" y1="363.2" x2="713.6" y2="365.4" stroke="#a8a8a8" stroke-width="1"/>
<text transform="translate(496.4 299.7) rotate(-90)" font-size="12.1" text-anchor="middle" fill="#222" textLength="110.2" lengthAdjust="spacingAndGlyphs">Relative mRNA level</text>
<rect x="539.0" y="257.2" width="18" height="105.0" fill="#1f6db5"/>
<rect x="557.0" y="281.3" width="18" height="80.9" fill="#ee2b2b"/>
<line x1="548" y1="257.2" x2="548" y2="246.7" stroke="#333" stroke-width="1"/>
<line x1="546" y1="246.7" x2="550" y2="246.7" stroke="#333" stroke-width="1"/>
<line x1="566" y1="281.3" x2="566" y2="265.6" stroke="#333" stroke-width="1"/>
<line x1="564" y1="265.6" x2="568" y2="265.6" stroke="#333" stroke-width="1"/>
<rect x="601.6" y="257.2" width="18" height="105.0" fill="#1f6db5"/>
<rect x="619.6" y="275.6" width="18" height="86.6" fill="#ee2b2b"/>
<line x1="610.6" y1="257.2" x2="610.6" y2="253.0" stroke="#333" stroke-width="1"/>
<line x1="608.6" y1="253.0" x2="612.6" y2="253.0" stroke="#333" stroke-width="1"/>
<line x1="628.6" y1="275.6" x2="628.6" y2="245.7" stroke="#333" stroke-width="1"/>
<line x1="626.6" y1="245.7" x2="630.6" y2="245.7" stroke="#333" stroke-width="1"/>
<rect x="664.4" y="257.2" width="18" height="105.0" fill="#1f6db5"/>
<rect x="682.4" y="304.4" width="18" height="57.8" fill="#ee2b2b"/>
<line x1="673.4" y1="257.2" x2="673.4" y2="247.8" stroke="#333" stroke-width="1"/>
<line x1="671.4" y1="247.8" x2="675.4" y2="247.8" stroke="#333" stroke-width="1"/>
<line x1="691.4" y1="304.4" x2="691.4" y2="288.7" stroke="#333" stroke-width="1"/>
<line x1="689.4" y1="288.7" x2="693.4" y2="288.7" stroke="#333" stroke-width="1"/>
<polyline points="671.6,241.4 691.4,241.4 691.4,271.6" fill="none" stroke="#222" stroke-width="1.5"/>
<text x="681.9" y="245.5" font-size="19.5" text-anchor="middle" fill="#111">*</text>
<text x="560.5" y="375.4" font-size="12.6" text-anchor="middle" fill="#222">β-catenin</text>
<text x="622.8" y="375.4" font-size="12.6" text-anchor="middle" fill="#222">Bmi1</text>
<text x="682.7" y="375.4" font-size="12.6" text-anchor="middle" fill="#222">Lgr5</text>
<rect x="702.6" y="222.4" width="7.6" height="7.6" fill="#3b74bb"/>
<rect x="702.6" y="245" width="7.6" height="7.6" fill="#c24b4b"/>
<text x="714.2" y="230.4" font-size="12" fill="#222">control</text>
<text x="714.2" y="252.8" font-size="12" fill="#222">alcohol</text>
</svg></body></html>
